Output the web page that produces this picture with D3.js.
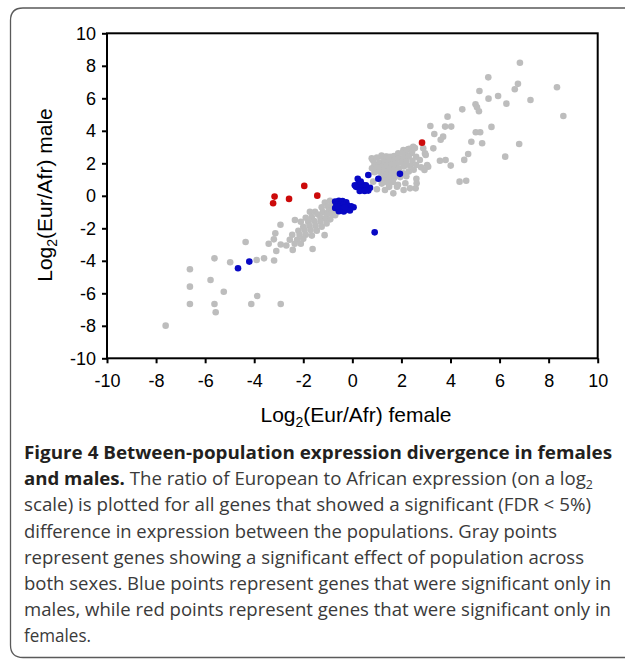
<!DOCTYPE html>
<html>
<head>
<meta charset="utf-8">
<script src="https://cdn.jsdelivr.net/npm/d3@7/dist/d3.min.js"></script>
<style>
  html, body { margin: 0; padding: 0; background: #fff; }
  svg { display: block; }
</style>
</head>
<body>
<svg id="chart" width="625" height="659"></svg>
<script>
// ---------- data ----------
const xTicks = [-10, -8, -6, -4, -2, 0, 2, 4, 6, 8, 10];
const yTicks = [-10, -8, -6, -4, -2, 0, 2, 4, 6, 8, 10];

// gray: significant population effect across both sexes [female, male]
const grayPoints = [
  [6.83,8.19],[5.54,7.29],[6.75,6.89],[6.62,6.56],[8.34,6.68],[5.18,6.45],[5.94,6.14],[5.55,5.98],
  [7.26,5.90],[6.28,5.67],[8.60,4.91],[4.48,5.32],[5.02,5.63],[5.08,5.45],[5.16,5.20],[3.88,4.87],
  [3.18,4.30],[3.78,4.26],[4.03,4.26],[5.67,4.24],[3.34,3.80],[5.03,3.91],[5.21,3.91],[3.70,3.64],
  [3.60,3.45],[4.85,3.33],[5.29,3.23],[6.80,3.19],[3.30,2.92],[4.72,2.57],[2.99,2.51],[3.57,2.16],
  [3.80,2.20],[4.56,2.21],[6.23,2.41],[4.01,1.86],[3.05,1.90],[3.09,1.79],[2.94,1.59],[4.37,0.87],
  [4.64,0.93],[2.61,1.05],[2.16,0.77],[2.58,0.46],[1.67,0.15],[2.96,2.61],
  // upper dense cluster
  [0.79,2.31],[1.19,2.47],[1.40,2.41],[2.08,2.82],[2.28,2.88],[2.89,2.92],[2.44,2.76],
  [2.62,0.77],[2.35,0.46],[2.09,0.36],[1.82,0.56],
  [0.83,2.20],[1.00,2.35],[1.20,2.40],[1.35,2.40],[1.54,2.40],[1.70,2.45],[1.87,2.61],[2.05,2.65],
  [2.20,2.80],[2.35,2.90],[2.48,3.02],[2.55,2.94],[2.42,2.63],[2.20,2.50],
  [0.90,1.95],[1.10,2.05],[1.30,2.10],[1.50,2.15],[1.70,2.20],[1.90,2.30],[2.10,2.35],[2.30,2.40],
  [2.60,2.40],[2.75,2.20],
  [0.80,1.70],[1.00,1.75],[1.20,1.80],[1.40,1.85],[1.60,1.90],[1.80,1.95],[2.00,2.05],[2.20,2.10],
  [2.45,2.15],
  [0.90,1.45],[1.10,1.50],[1.30,1.55],[1.50,1.60],[1.70,1.65],[1.90,1.70],[2.10,1.80],[2.35,1.85],
  [2.60,1.90],[2.80,1.75],
  [1.20,1.25],[1.40,1.30],[1.60,1.35],[1.80,1.40],[2.08,1.38],[2.30,1.50],[2.50,1.60],
  [1.30,1.00],[1.50,1.05],[1.70,1.10],[1.95,1.15],[2.20,1.20],
  [1.20,0.75],[1.45,0.80],[1.65,0.85],[1.86,0.68],[1.33,0.36],[1.50,0.55],
  [0.85,0.87],[1.26,0.87],[1.00,0.40],
  // lower sparse
  [-7.61,-7.99],[-6.62,-4.52],[-6.62,-5.59],[-6.62,-6.66],[-5.62,-3.85],[-5.78,-5.18],[-5.62,-6.66],
  [-5.57,-7.17],[-5.24,-5.90],[-4.98,-4.09],[-4.35,-2.84],[-3.90,-3.95],[-3.60,-3.85],[-3.19,-3.98],
  [-4.12,-6.66],[-3.88,-6.17],[-2.92,-6.66],[-3.41,-2.95],[-3.20,-2.68],[-3.14,-2.31],[-2.93,-1.78],
  [-2.92,-3.00],[-2.69,-3.06],[-3.10,-3.40],[-2.43,-3.33],[-1.62,-3.27],[-2.34,-1.49],[-1.13,-2.42],
  // lower dense cluster
  [-1.12,-0.42],[-0.91,-0.30],[-0.80,-0.55],[-1.00,-0.65],[-1.25,-0.70],[-0.75,-0.85],[-0.95,-0.90],
  [-1.52,-0.98],[-1.73,-0.98],[-1.20,-1.00],[-1.40,-1.15],[-1.05,-1.15],[-0.85,-1.10],[-0.70,-1.20],
  [-1.65,-1.30],[-1.90,-1.35],[-1.30,-1.35],[-1.10,-1.40],[-0.90,-1.45],
  [-2.10,-1.60],[-1.80,-1.60],[-1.55,-1.55],[-1.30,-1.60],[-1.05,-1.70],
  [-2.00,-1.90],[-1.75,-1.85],[-1.50,-1.85],[-1.25,-1.90],
  [-2.20,-2.15],[-1.95,-2.10],[-1.70,-2.10],[-1.45,-2.15],
  [-2.45,-2.40],[-2.15,-2.40],[-1.90,-2.40],[-1.65,-2.45],
  [-2.55,-2.70],[-2.25,-2.70],[-2.00,-2.65],
  [-2.35,-2.95],[-2.10,-2.95]
];

// blue: significant only in males
const bluePoints = [
  [-0.70,-0.35],[-0.55,-0.30],[-0.40,-0.32],[-0.25,-0.40],[-0.65,-0.55],[-0.50,-0.55],[-0.35,-0.55],
  [-0.20,-0.60],[-0.05,-0.65],[0.05,-0.70],[-0.70,-0.75],[-0.55,-0.80],[-0.40,-0.80],[-0.25,-0.85],
  [-0.10,-0.90],[-0.55,-0.95],[-0.35,-0.97],[-0.60,-0.65],[-0.30,-0.70],
  [0.15,0.55],[0.30,0.50],[0.45,0.45],[0.60,0.45],[0.72,0.50],[0.25,0.75],[0.40,0.70],[0.55,0.65],
  [0.22,1.05],[0.34,0.87],[0.30,0.30],[0.50,0.30],[0.65,0.32],[0.10,0.65],
  [0.65,1.28],[1.06,1.05],[1.94,1.35],
  [0.91,-2.25],[-4.20,-4.05],[-4.66,-4.46]
];

// red: significant only in females
const redPoints = [
  [-3.17,-0.05],[-3.23,-0.46],[-2.58,-0.19],[-1.96,0.61],[-1.43,0.01],[2.84,3.27]
];

const captionLines = [
  [{t:"Figure 4 Between-population expression divergence in females", b:true}],
  [{t:"and males.", b:true},{t:" The ratio of European to African expression (on a log"},{t:"2", sub:true}],
  [{t:"scale) is plotted for all genes that showed a significant (FDR < 5%)"}],
  [{t:"difference in expression between the populations. Gray points"}],
  [{t:"represent genes showing a significant effect of population across"}],
  [{t:"both sexes. Blue points represent genes that were significant only in"}],
  [{t:"males, while red points represent genes that were significant only in"}],
  [{t:"females."}]
];
const captionWidths = [588, 569, 567, 533, 560, 587, 587, 67];

// ---------- drawing ----------
const svg = d3.select("#chart");

// figure border (rounded, open to the right)
svg.append("path")
  .attr("d", "M 640 8 H 23 Q 10.5 8 10.5 20.5 V 645 Q 10.5 657.5 23 657.5 H 640")
  .attr("fill", "none").attr("stroke", "#5a5a5a").attr("stroke-width", 1.3);

const x = d3.scaleLinear().domain([-10, 10]).range([107, 597.7]);
const y = d3.scaleLinear().domain([-10, 10]).range([358.3, 33.3]);

const tickFont = "'Liberation Sans', Arial, Helvetica, sans-serif";

const xAxis = svg.append("g")
  .attr("transform", `translate(0,${y(-10)})`)
  .call(d3.axisBottom(x).tickValues(xTicks).tickSize(5).tickSizeOuter(0).tickPadding(11)
    .tickFormat(d3.format("d")));
const yAxis = svg.append("g")
  .attr("transform", `translate(${x(-10)},0)`)
  .call(d3.axisLeft(y).tickValues(yTicks).tickSize(5).tickSizeOuter(0).tickPadding(6)
    .tickFormat(d3.format("d")));

[xAxis, yAxis].forEach(g => {
  g.select(".domain").remove();
  g.selectAll(".tick line").attr("stroke", "#000").attr("stroke-width", 2);
  g.selectAll(".tick text").attr("fill", "#000")
    .style("font-family", tickFont).style("font-size", "18px");
});
// use hyphen-minus like the reference
svg.selectAll(".tick text").text(d => String(d));

// frame
svg.append("rect")
  .attr("x", x(-10)).attr("y", y(10))
  .attr("width", x(10) - x(-10)).attr("height", y(-10) - y(10))
  .attr("fill", "none").attr("stroke", "#000").attr("stroke-width", 2);

// points
const r = 3.3;
function drawPts(data, color) {
  svg.append("g").selectAll("circle").data(data).join("circle")
    .attr("cx", d => x(d[0])).attr("cy", d => y(d[1])).attr("r", r)
    .attr("fill", color);
}
drawPts(grayPoints, "#bdbdbd");
drawPts(bluePoints, "#0808c4");
drawPts(redPoints, "#cc0a0a");

// axis titles
const xt = svg.append("text")
  .attr("x", 356).attr("y", 421.5).attr("text-anchor", "middle")
  .style("font-family", tickFont).style("font-size", "21px").attr("fill", "#000");
xt.append("tspan").text("Log");
xt.append("tspan").text("2").attr("dy", 5).style("font-size", "14px");
xt.append("tspan").text("(Eur/Afr) female").attr("dy", -5);

const yt = svg.append("text")
  .attr("transform", "translate(52,195) rotate(-90)").attr("text-anchor", "middle")
  .style("font-family", tickFont).style("font-size", "21px").attr("fill", "#000");
yt.append("tspan").text("Log");
yt.append("tspan").text("2").attr("dy", 5).style("font-size", "14px");
yt.append("tspan").text("(Eur/Afr) male").attr("dy", -5);

// caption
const capFont = "'Open Sans', 'Noto Sans', sans-serif";
captionLines.forEach((parts, i) => {
  const t = svg.append("text")
    .attr("x", 24).attr("y", 459 + i * 26.2)
    .attr("textLength", captionWidths[i]).attr("lengthAdjust", "spacingAndGlyphs")
    .style("font-family", capFont).style("font-size", "18px").attr("fill", "#3a3a3a");
  parts.forEach(p => {
    const s = t.append("tspan").text(p.t);
    if (p.b) s.style("font-weight", 700).attr("fill", "#231f20");
    if (p.sub) s.attr("dy", 4).style("font-size", "12px");
  });
});
</script>
</body>
</html>
